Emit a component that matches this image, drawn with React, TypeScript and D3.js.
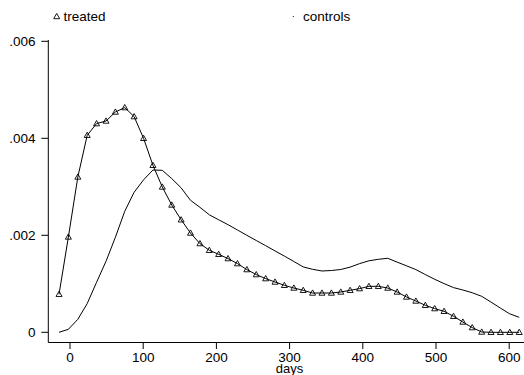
import React from "react";
import * as d3 from "d3";

const days = [
  -15.0, -2.2, 10.7, 23.5, 36.3, 49.2, 62.0, 74.8, 87.6, 100.5,
  113.3, 126.1, 139.0, 151.8, 164.6, 177.5, 190.3, 203.1, 215.9, 228.8,
  241.6, 254.4, 267.3, 280.1, 292.9, 305.8, 318.6, 331.4, 344.2, 357.1,
  369.9, 382.7, 395.6, 408.4, 421.2, 434.1, 446.9, 459.7, 472.5, 485.4,
  498.2, 511.0, 523.9, 536.7, 549.5, 562.4, 575.2, 588.0, 600.8, 613.7,
];

const treated = [
  0.000784, 0.001965, 0.003202, 0.004062, 0.004303, 0.004357, 0.004542, 0.004633, 0.004447, 0.0040,
  0.003443, 0.002996, 0.002625, 0.00232, 0.002047, 0.001829, 0.001691, 0.001608, 0.00152, 0.001416,
  0.001293, 0.00119, 0.001107, 0.001037, 0.000969, 0.000913, 0.000866, 0.00081, 0.00081, 0.00081,
  0.000831, 0.000866, 0.000901, 0.000948, 0.000948, 0.000913, 0.000831, 0.000728, 0.000645, 0.000557,
  0.000489, 0.000433, 0.00033, 0.000212, 0.000097, 0.000006, 0.0, 0.0, 0.0, 0.0,
];

const controls = [
  0.0, 0.000062, 0.000268, 0.000592, 0.001031, 0.001464, 0.001959, 0.002495, 0.002887, 0.003144,
  0.003346, 0.00334, 0.003169, 0.002979, 0.002722, 0.002577, 0.002423, 0.00232, 0.002219, 0.002109,
  0.002, 0.001893, 0.001786, 0.001678, 0.001571, 0.00146, 0.001348, 0.001299, 0.001264, 0.001274,
  0.001295, 0.001344, 0.001416, 0.001474, 0.001505, 0.001526, 0.001447, 0.001371, 0.001293, 0.00119,
  0.001093, 0.001004, 0.000922, 0.000872, 0.000816, 0.000742, 0.000623, 0.000499, 0.000381, 0.000309,
];

const xTicks = [0, 100, 200, 300, 400, 500, 600];
const yTicks = [0, 0.002, 0.004, 0.006];
const yTickLabels = ["0", ".002", ".004", ".006"];
const xLabel = "days";
const legendLabels = ["treated", "controls"];

const W = 524;
const H = 375;
const FONT = "'Liberation Sans', Arial, Helvetica, sans-serif";

export default function App() {
  const x = d3.scaleLinear().domain([0, 600]).range([70, 509.2]);
  const y = d3.scaleLinear().domain([0, 0.006]).range([332.3, 41.3]);

  const axisLeft = 48.3;
  const axisBottom = 342.5;

  const lineGen = d3
    .line<number>()
    .x((_, i) => x(days[i]))
    .y((d) => y(d));

  const tri = (cx: number, cy: number) =>
    `M${cx},${cy - 3.1}L${cx + 3},${cy + 2.2}L${cx - 3},${cy + 2.2}Z`;

  return (
    <svg
      width={W}
      height={H}
      viewBox={`0 0 ${W} ${H}`}
      style={{ position: "absolute", left: 0, top: 0, background: "#fff" }}
      fontFamily={FONT}
    >
      <rect x={0} y={0} width={W} height={H} fill="#fff" />
      {/* legend */}
      <path d={tri(56.7, 16.5)} fill="none" stroke="#000" strokeWidth={0.9} />
      <text x={63.5} y={21} fontSize={13.5} fill="#000">
        {legendLabels[0]}
      </text>
      <circle cx={293.3} cy={16.5} r={0.6} fill="#000" />
      <text x={303} y={21} fontSize={13.5} fill="#000">
        {legendLabels[1]}
      </text>

      {/* y axis */}
      <line x1={axisLeft} x2={axisLeft} y1={40} y2={axisBottom} stroke="#000" strokeWidth={1} />
      {yTicks.map((t, i) => (
        <g key={t}>
          <line x1={axisLeft - 7} x2={axisLeft} y1={y(t)} y2={y(t)} stroke="#000" strokeWidth={1} />
          <text
            x={35.5}
            y={y(t)}
            dy="0.36em"
            textAnchor="end"
            fontSize={13.5}
            fill="#000"
          >
            {yTickLabels[i]}
          </text>
        </g>
      ))}

      {/* x axis */}
      <line x1={axisLeft} x2={W} y1={axisBottom} y2={axisBottom} stroke="#000" strokeWidth={1} />
      {xTicks.map((t) => (
        <g key={t}>
          <line x1={x(t)} x2={x(t)} y1={axisBottom} y2={axisBottom + 6.5} stroke="#000" strokeWidth={1} />
          <text x={x(t)} y={361.5} textAnchor="middle" fontSize={13.5} fill="#000">
            {t}
          </text>
        </g>
      ))}
      <text x={x(300)} y={372.5} textAnchor="middle" fontSize={13} fill="#000">
        {xLabel}
      </text>

      {/* controls */}
      <path d={lineGen(controls) || ""} fill="none" stroke="#000" strokeWidth={1} />
      {/* treated */}
      <path d={lineGen(treated) || ""} fill="none" stroke="#000" strokeWidth={1} />
      {treated.map((v, i) => (
        <path key={i} d={tri(x(days[i]), y(v))} fill="none" stroke="#000" strokeWidth={0.9} />
      ))}
    </svg>
  );
}
